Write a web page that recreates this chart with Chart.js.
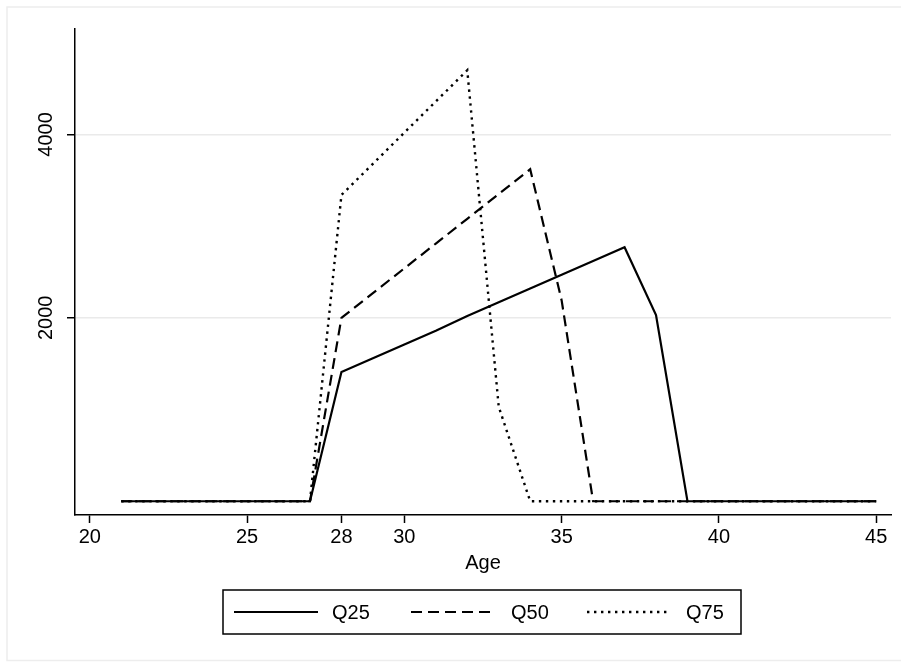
<!DOCTYPE html>
<html>
<head>
<meta charset="utf-8">
<script src="https://cdn.jsdelivr.net/npm/chart.js@4.4.0/dist/chart.umd.min.js"></script>
<style>
html,body{margin:0;padding:0;background:#fff;}
#wrap{width:901px;height:662px;position:relative;}
</style>
</head>
<body>
<div id="wrap"><canvas id="c" width="901" height="662"></canvas></div>
<script>
// ---- data ----
const ages = [21,22,23,24,25,26,27,28,29,30,31,32,33,34,35,36,37,38,39,40,41,42,43,44,45];
const q25  = [0,0,0,0,0,0,0,1410,1560,1710,1860,2020,2170,2320,2470,2620,2770,2030,0,0,0,0,0,0,0];
const q50  = [0,0,0,0,0,0,0,2000,2270,2540,2810,3080,3350,3620,2190,0,0,0,0,0,0,0,0,0,0];
const q75  = [0,0,0,0,0,0,0,3340,3680,4020,4360,4700,1030,0,0,0,0,0,0,0,0,0,0,0,0];
const seriesNames = ['Q25','Q50','Q75'];
const xTicks = [20,25,28,30,35,40,45];
const yTicks = [2000,4000];
const xTitle = 'Age';

const FONT = '"Liberation Sans", Arial, Helvetica, sans-serif';
const dashes = [[], [11,6], [2.4,4.6]];
const widths = [2.2, 2.2, 2.4];
const seriesValues = [q25, q50, q75];

const datasets = seriesNames.map((name, i) => ({
  label: name,
  data: ages.map((a, k) => ({x: a, y: seriesValues[i][k]})),
  borderColor: '#000',
  backgroundColor: '#000',
  borderWidth: widths[i],
  borderDash: dashes[i],
  borderCapStyle: 'butt',
  borderJoinStyle: 'miter',
  pointRadius: 0,
  tension: 0,
  fill: false,
  order: 3 - i
}));

const framePlugin = {
  id: 'frame',
  beforeDraw(chart) {
    const ctx = chart.ctx;
    ctx.save();
    ctx.fillStyle = '#fff';
    ctx.fillRect(0, 0, chart.width, chart.height);
    ctx.strokeStyle = '#ededed';
    ctx.lineWidth = 1.5;
    ctx.strokeRect(7, 7, 920, 653.5);
    ctx.restore();
  }
};

const yLabelPlugin = {
  id: 'ylabels',
  afterDraw(chart) {
    const ctx = chart.ctx;
    const ys = chart.scales.y;
    ctx.save();
    ctx.fillStyle = '#000';
    ctx.font = '20px ' + FONT;
    ctx.textAlign = 'center';
    ctx.textBaseline = 'middle';
    ys.ticks.forEach(t => {
      const py = ys.getPixelForValue(t.value);
      ctx.save();
      ctx.translate(46.5, py);
      ctx.rotate(-Math.PI / 2);
      ctx.fillText(String(t.value), 0, 0);
      ctx.restore();
    });
    ctx.restore();
  }
};

const legendPlugin = {
  id: 'boxLegend',
  afterDraw(chart) {
    const ctx = chart.ctx;
    const box = {x: 223, y: 590, w: 518, h: 44};
    const items = [
      {sx: 234, ex: 318, tx: 332},
      {sx: 411, ex: 496, tx: 511},
      {sx: 587, ex: 667, tx: 686}
    ];
    ctx.save();
    ctx.strokeStyle = '#000';
    ctx.lineWidth = 1.5;
    ctx.strokeRect(box.x, box.y, box.w, box.h);
    const cy = box.y + box.h / 2;
    chart.data.datasets.forEach((ds, i) => {
      const it = items[i];
      ctx.beginPath();
      ctx.setLineDash(ds.borderDash || []);
      ctx.lineWidth = ds.borderWidth;
      ctx.lineCap = 'butt';
      ctx.moveTo(it.sx, cy);
      ctx.lineTo(it.ex, cy);
      ctx.stroke();
      ctx.setLineDash([]);
      ctx.fillStyle = '#000';
      ctx.font = '20px ' + FONT;
      ctx.textAlign = 'left';
      ctx.textBaseline = 'middle';
      ctx.fillText(ds.label, it.tx, cy + 1);
    });
    ctx.restore();
  }
};

new Chart(document.getElementById('c'), {
  type: 'line',
  data: { datasets },
  plugins: [framePlugin, yLabelPlugin, legendPlugin],
  options: {
    responsive: false,
    devicePixelRatio: 1,
    animation: false,
    layout: { padding: { top: 29, right: 10, bottom: 77, left: 0 } },
    plugins: { legend: { display: false }, tooltip: { enabled: false } },
    scales: {
      x: {
        type: 'linear',
        min: 19.53,
        max: 45.47,
        afterBuildTicks: s => { s.ticks = xTicks.map(v => ({value: v})); },
        afterFit: s => { s.height = 70; },
        grid: { drawOnChartArea: false, drawTicks: true, tickLength: 8, tickColor: '#000', tickWidth: 1.5 },
        border: { display: true, color: '#000', width: 1.5 },
        ticks: { color: '#000', font: { size: 20, family: FONT }, padding: 2, maxRotation: 0, autoSkip: false },
        title: { display: true, text: xTitle, color: '#000', font: { size: 20, family: FONT }, padding: { top: 0, bottom: 10 } }
      },
      y: {
        type: 'linear',
        min: -150,
        max: 5150,
        afterBuildTicks: s => { s.ticks = yTicks.map(v => ({value: v})); },
        afterFit: s => { s.width = 75; },
        grid: { color: '#eaeaea', lineWidth: 1.5, drawTicks: true, tickLength: 8, tickColor: '#000', tickWidth: 1.5 },
        border: { display: true, color: '#000', width: 1.5 },
        ticks: { display: false }
      }
    }
  }
});
</script>
</body>
</html>
